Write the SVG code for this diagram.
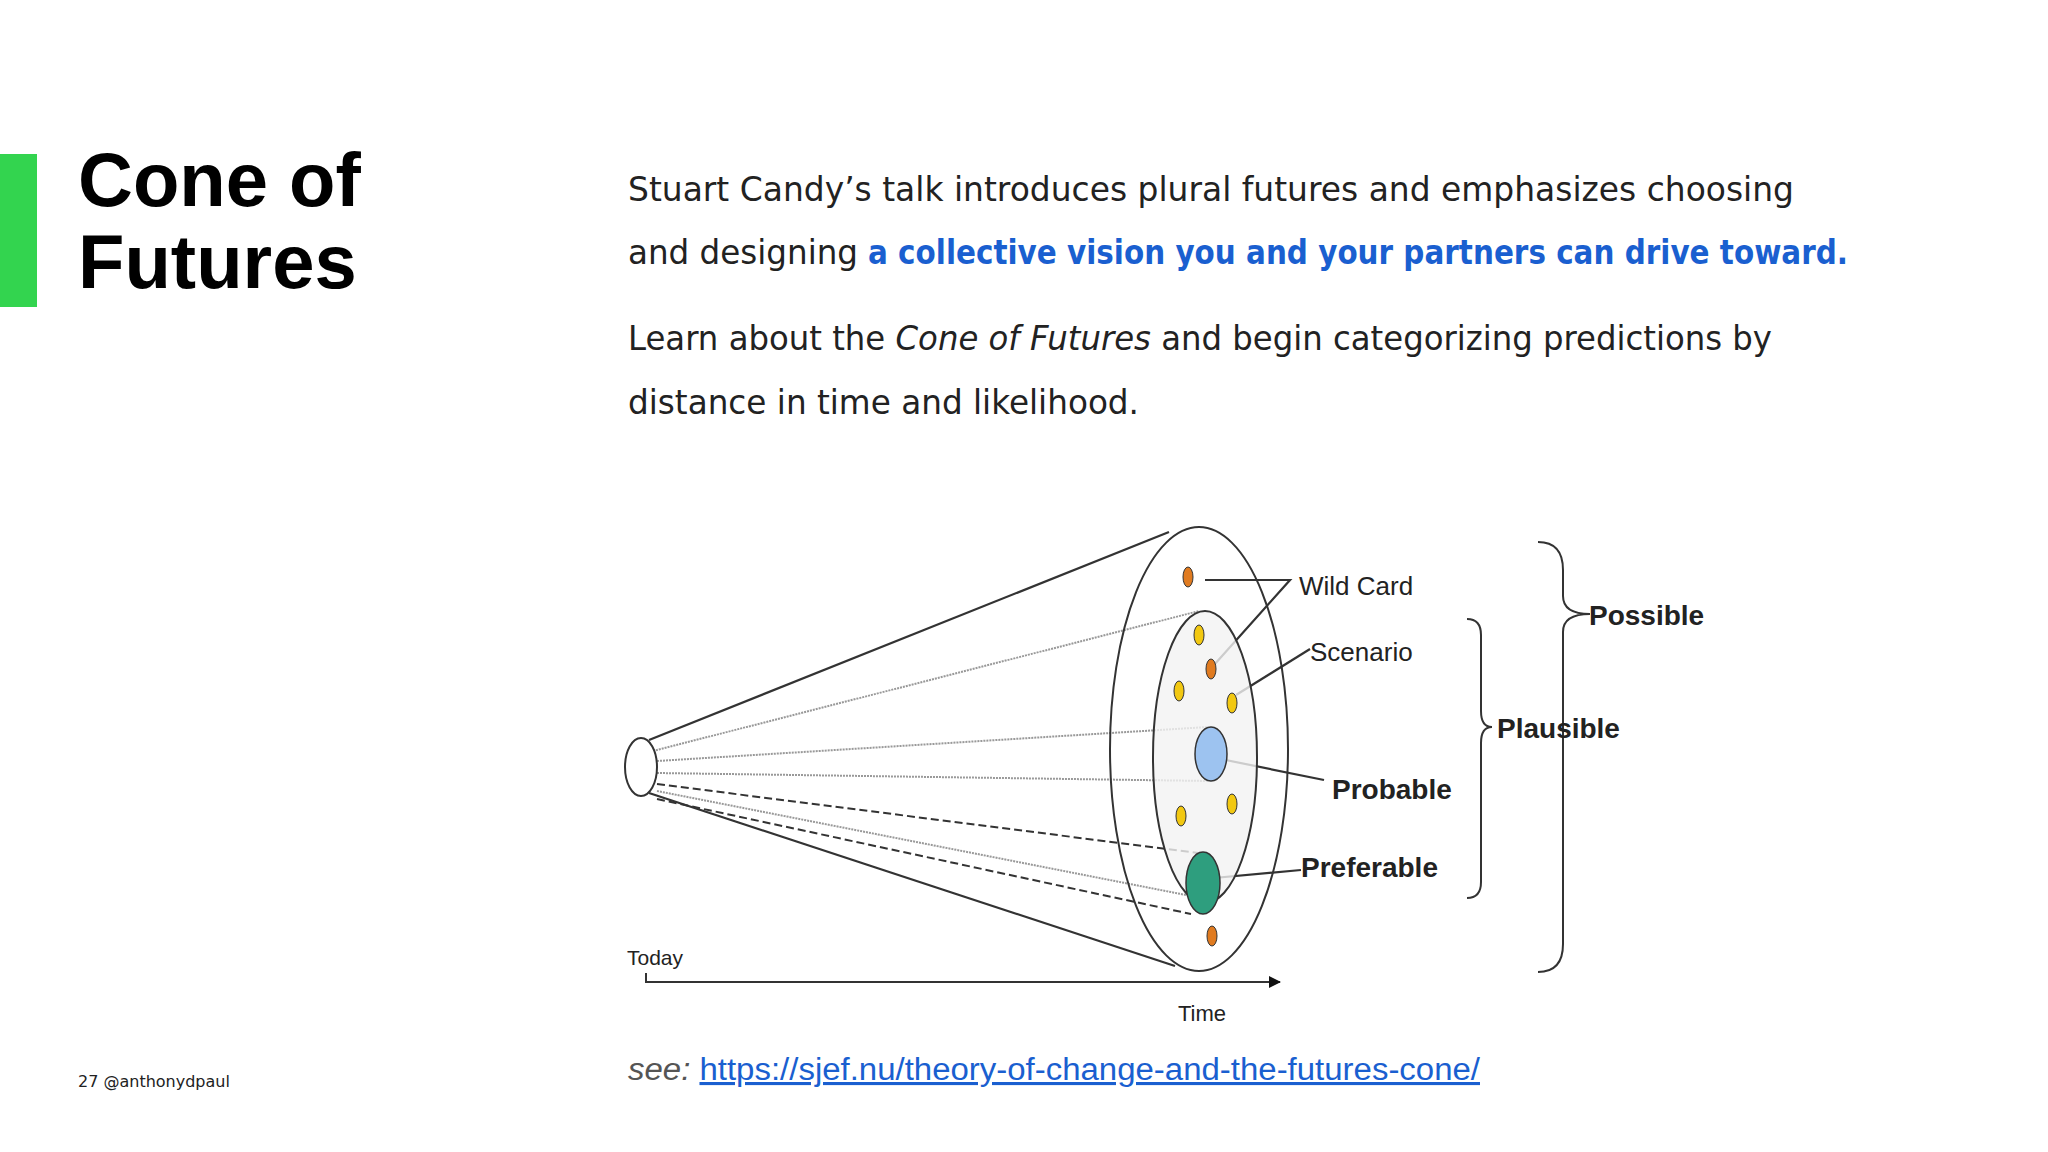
<svg xmlns="http://www.w3.org/2000/svg" width="2048" height="1152" viewBox="0 0 2048 1152">
<style>
.t{font-family:"Liberation Sans",Arial,sans-serif;fill:#222}
.p{font-family:"DejaVu Sans","Liberation Sans",sans-serif;font-size:34px;fill:#222}
.d{font-family:"Liberation Sans",Arial,sans-serif;fill:#222}
.b{fill:none;stroke:#333;stroke-width:2}
.k{stroke:#333;stroke-width:2.2;fill:none}
.g{stroke:#999;stroke-width:2;stroke-dasharray:2 1;fill:none}
.dash{stroke:#333;stroke-width:2;stroke-dasharray:8 4;fill:none}
.o{fill:#e07b20;stroke:#333;stroke-width:1}
.y{fill:#f2c811;stroke:#333;stroke-width:1}
</style>
<defs><marker id="ar" markerWidth="12" markerHeight="12" refX="11" refY="6" orient="auto" markerUnits="userSpaceOnUse"><path d="M0,0 L12,6 L0,12 z" fill="#111"/></marker></defs>
<rect width="2048" height="1152" fill="#fff"/>
<rect x="0" y="154" width="37" height="153" fill="#33d44f"/>
<g id="title"><text class="t" x="78" y="206" font-size="76" font-weight="bold" style="fill:#000">Cone of</text><text class="t" x="78" y="288" font-size="76" font-weight="bold" style="fill:#000">Futures</text></g>
<g id="body">
<text class="p" x="628" y="201" textLength="1166" lengthAdjust="spacingAndGlyphs">Stuart Candy’s talk introduces plural futures and emphasizes choosing</text>
<text class="p" x="628" y="264" textLength="230" lengthAdjust="spacingAndGlyphs">and designing</text>
<text class="p" x="868" y="264" textLength="980" lengthAdjust="spacingAndGlyphs" font-weight="bold" style="fill:#1a5fd0">a collective vision you and your partners can drive toward.</text>
<text class="p" x="628" y="350" textLength="1144" lengthAdjust="spacingAndGlyphs">Learn about the <tspan font-style="italic">Cone of Futures</tspan> and begin categorizing predictions by</text>
<text class="p" x="628" y="414" textLength="511" lengthAdjust="spacingAndGlyphs">distance in time and likelihood.</text>
</g>
<g id="footer"><text class="t" x="78" y="1087" style="font-size:16px;font-family:'DejaVu Sans',sans-serif">27  @anthonydpaul</text></g>
<g id="see"><text class="t" x="628" y="1080" font-size="31" style="fill:#555" textLength="852" lengthAdjust="spacingAndGlyphs"><tspan font-style="italic">see: </tspan><tspan style="fill:#1a5fd0" text-decoration="underline">https://sjef.nu/theory-of-change-and-the-futures-cone/</tspan></text></g>
<g id="connectors">
<line class="k" x1="649" y1="740" x2="1169" y2="532"/>
<line class="k" x1="649" y1="793" x2="1175" y2="966"/>
<line class="g" x1="653" y1="751" x2="1199" y2="611"/>
<line class="g" x1="657" y1="761" x2="1208" y2="727"/>
<line class="g" x1="657" y1="773" x2="1208" y2="781"/>
<line class="dash" x1="657" y1="784" x2="1198" y2="853"/>
<line class="g" x1="657" y1="791" x2="1191" y2="896"/>
<line class="dash" x1="657" y1="799" x2="1191" y2="914"/>
<polyline class="k" points="1205,580 1290,580 1214,665"/>
<line class="k" x1="1310" y1="649" x2="1236" y2="695"/>
<line class="k" x1="1211" y1="757" x2="1324" y2="780"/>
<line class="k" x1="1203" y1="879" x2="1301" y2="870"/>
<path class="b" d="M646,973 L646,982 L1280,982" marker-end="url(#ar)"/>
<path class="b" d="M1467,619 Q1481,619 1481,635 L1481,711 Q1481,727 1492,727 Q1481,727 1481,743 L1481,882 Q1481,898 1467,898"/>
<path class="b" d="M1538,542 Q1563,542 1563,570 L1563,596 Q1563,614 1590,614 Q1563,614 1563,632 L1563,944 Q1563,972 1538,972"/>
</g>
<g id="today"><ellipse cx="641" cy="767" rx="16" ry="29" fill="#fff" stroke="#333" stroke-width="2"/><text class="d" x="627" y="965" font-size="21">Today</text></g>
<g id="possible"><ellipse cx="1199" cy="749" rx="89" ry="222" fill="none" stroke="#333" stroke-width="2"/></g>
<g id="plausible"><ellipse cx="1205" cy="757" rx="52" ry="146" fill="#f2f2f2" fill-opacity="0.8" stroke="#333" stroke-width="2"/></g>
<g id="probable"><ellipse cx="1211" cy="754" rx="16" ry="27" fill="#9dc3f0" stroke="#333" stroke-width="1.5"/></g>
<g id="preferable"><ellipse cx="1203" cy="883" rx="17" ry="31" fill="#2e9e7e" stroke="#333" stroke-width="1.5"/></g>
<g id="dots">
<ellipse class="o" cx="1188" cy="577" rx="5" ry="10"/>
<ellipse class="o" cx="1211" cy="669" rx="5" ry="10"/>
<ellipse class="o" cx="1212" cy="936" rx="5" ry="10"/>
<ellipse class="y" cx="1199" cy="635" rx="5" ry="10"/>
<ellipse class="y" cx="1179" cy="691" rx="5" ry="10"/>
<ellipse class="y" cx="1232" cy="703" rx="5" ry="10"/>
<ellipse class="y" cx="1181" cy="816" rx="5" ry="10"/>
<ellipse class="y" cx="1232" cy="804" rx="5" ry="10"/>
</g>
<g id="labels">
<text class="d" x="1299" y="595" font-size="26">Wild Card</text>
<text class="d" x="1310" y="661" font-size="26">Scenario</text>
<text class="d" x="1332" y="799" font-size="28" font-weight="bold">Probable</text>
<text class="d" x="1301" y="877" font-size="28" font-weight="bold">Preferable</text>
<text class="d" x="1497" y="738" font-size="28" font-weight="bold">Plausible</text>
<text class="d" x="1589" y="625" font-size="28" font-weight="bold">Possible</text>
<text class="d" x="1178" y="1021" font-size="22">Time</text>
</g>
</svg>
